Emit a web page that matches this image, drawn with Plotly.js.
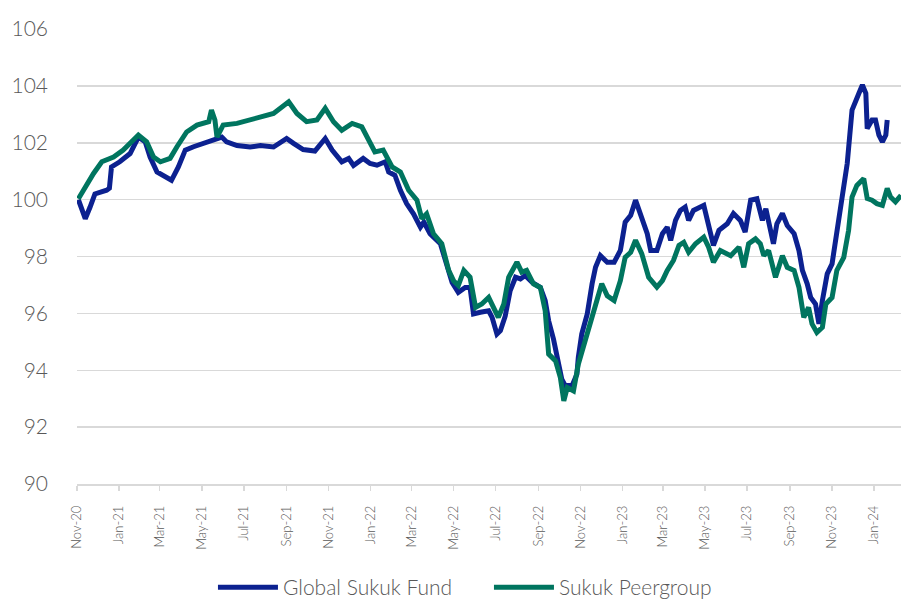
<!DOCTYPE html>
<html>
<head>
<meta charset="utf-8">
<script src="https://cdn.plot.ly/plotly-3.0.1.min.js"></script>
<style>
html,body{margin:0;padding:0;background:#fff;}
#chart{width:901px;height:599px;}
</style>
</head>
<body>
<div id="chart"></div>
<script>
// Global Sukuk Fund
var fundDates = ["2020-11-03","2020-11-13","2020-11-20","2020-11-27","2020-12-14","2020-12-18","2020-12-21","2021-01-02","2021-01-17","2021-01-29","2021-02-08","2021-02-15","2021-02-25","2021-03-09","2021-03-18","2021-03-28","2021-04-07","2021-04-19","2021-05-03","2021-05-18","2021-05-30","2021-06-06","2021-06-21","2021-07-10","2021-07-25","2021-08-13","2021-09-01","2021-09-11","2021-09-25","2021-10-12","2021-10-27","2021-11-06","2021-11-20","2021-11-30","2021-12-07","2021-12-21","2021-12-31","2022-01-10","2022-01-22","2022-01-27","2022-02-05","2022-02-13","2022-02-22","2022-03-04","2022-03-14","2022-03-19","2022-03-28","2022-04-12","2022-04-22","2022-04-29","2022-05-08","2022-05-18","2022-05-25","2022-05-30","2022-06-09","2022-06-21","2022-06-26","2022-07-03","2022-07-08","2022-07-15","2022-07-22","2022-07-30","2022-08-06","2022-08-13","2022-08-23","2022-09-04","2022-09-11","2022-09-16","2022-09-23","2022-09-28","2022-10-05","2022-10-10","2022-10-20","2022-10-27","2022-10-29","2022-11-03","2022-11-11","2022-11-18","2022-11-23","2022-11-30","2022-12-10","2022-12-20","2022-12-29","2023-01-05","2023-01-13","2023-01-20","2023-01-27","2023-02-06","2023-02-11","2023-02-20","2023-02-28","2023-03-07","2023-03-12","2023-03-19","2023-03-26","2023-04-02","2023-04-07","2023-04-14","2023-04-29","2023-05-06","2023-05-13","2023-05-21","2023-06-02","2023-06-11","2023-06-21","2023-06-28","2023-07-06","2023-07-15","2023-07-20","2023-07-23","2023-07-28","2023-08-01","2023-08-08","2023-08-13","2023-08-21","2023-08-28","2023-09-07","2023-09-14","2023-09-19","2023-09-26","2023-10-01","2023-10-08","2023-10-13","2023-10-18","2023-10-25","2023-11-01","2023-11-08","2023-11-16","2023-11-23","2023-11-30","2023-12-05","2023-12-10","2023-12-15","2023-12-20","2023-12-22","2023-12-29","2024-01-03","2024-01-08","2024-01-13","2024-01-18","2024-01-20"];
var fundValues = [100.0,99.33,99.74,100.2,100.33,100.4,101.15,101.33,101.62,102.2,102.03,101.5,100.97,100.8,100.68,101.15,101.74,101.86,101.98,102.09,102.2,102.03,101.9,101.85,101.9,101.85,102.15,101.98,101.76,101.71,102.15,101.74,101.33,101.45,101.2,101.45,101.27,101.21,101.33,100.97,100.86,100.33,99.86,99.5,99.03,99.21,98.8,98.45,97.62,97.09,96.74,96.91,96.91,95.98,96.04,96.09,95.86,95.27,95.39,95.9,96.78,97.27,97.21,97.33,97.09,96.91,96.45,95.74,95.1,94.51,93.69,93.46,93.46,93.86,94.45,95.27,95.98,97.04,97.62,98.03,97.8,97.8,98.21,99.21,99.45,99.98,99.51,98.8,98.21,98.21,98.8,99.03,98.57,99.27,99.62,99.74,99.27,99.62,99.8,99.15,98.39,98.92,99.15,99.51,99.27,98.86,99.98,100.03,99.62,99.27,99.68,99.27,98.45,99.15,99.51,99.09,98.8,98.21,97.51,97.04,96.56,96.33,95.63,96.45,97.39,97.74,98.8,100.09,101.27,103.15,103.5,103.74,104.03,103.74,102.5,102.8,102.8,102.27,102.03,102.27,102.8];

// Sukuk Peergroup
var peerDates = ["2020-11-03","2020-11-10","2020-11-25","2020-12-07","2020-12-24","2021-01-07","2021-01-22","2021-01-29","2021-02-10","2021-02-20","2021-03-02","2021-03-16","2021-03-26","2021-04-09","2021-04-24","2021-05-11","2021-05-15","2021-05-20","2021-05-23","2021-06-01","2021-06-21","2021-07-10","2021-07-29","2021-08-13","2021-09-04","2021-09-16","2021-09-30","2021-10-15","2021-10-27","2021-11-08","2021-11-20","2021-12-05","2021-12-19","2021-12-29","2022-01-07","2022-01-19","2022-02-01","2022-02-13","2022-02-25","2022-03-09","2022-03-16","2022-03-23","2022-04-02","2022-04-14","2022-04-24","2022-05-01","2022-05-08","2022-05-16","2022-05-25","2022-06-02","2022-06-11","2022-06-21","2022-06-28","2022-07-05","2022-07-13","2022-07-20","2022-08-01","2022-08-08","2022-08-15","2022-08-25","2022-09-04","2022-09-11","2022-09-16","2022-09-26","2022-10-03","2022-10-08","2022-10-13","2022-10-22","2022-10-29","2022-11-06","2022-11-15","2022-11-25","2022-12-02","2022-12-10","2022-12-20","2022-12-29","2023-01-05","2023-01-13","2023-01-20","2023-01-29","2023-02-08","2023-02-20","2023-02-28","2023-03-07","2023-03-16","2023-03-24","2023-03-31","2023-04-07","2023-04-17","2023-04-29","2023-05-06","2023-05-13","2023-05-23","2023-06-07","2023-06-19","2023-06-26","2023-07-03","2023-07-13","2023-07-20","2023-07-25","2023-08-01","2023-08-11","2023-08-21","2023-08-28","2023-09-07","2023-09-14","2023-09-21","2023-09-28","2023-10-03","2023-10-10","2023-10-18","2023-10-23","2023-11-01","2023-11-08","2023-11-18","2023-11-25","2023-11-30","2023-12-07","2023-12-17","2023-12-22","2023-12-29","2024-01-05","2024-01-13","2024-01-20","2024-01-25","2024-02-01","2024-02-09"];
var peerValues = [100.03,100.33,100.92,101.33,101.5,101.74,102.09,102.27,102.03,101.5,101.33,101.45,101.86,102.38,102.62,102.74,103.15,102.8,102.2,102.62,102.68,102.8,102.91,103.03,103.44,103.03,102.74,102.8,103.21,102.74,102.44,102.68,102.56,102.09,101.68,101.74,101.15,100.97,100.33,99.98,99.33,99.5,98.8,98.45,97.51,97.15,96.98,97.51,97.27,96.21,96.33,96.56,96.21,95.86,96.33,97.27,97.8,97.45,97.51,97.04,96.91,96.09,94.57,94.33,93.74,92.92,93.39,93.27,94.21,94.86,95.6,96.45,97.04,96.62,96.45,97.15,97.97,98.15,98.57,98.1,97.27,96.92,97.15,97.51,97.86,98.39,98.5,98.15,98.45,98.68,98.33,97.8,98.21,98.03,98.33,97.62,98.45,98.62,98.45,98.03,98.21,97.27,98.03,97.62,97.51,96.92,95.86,96.21,95.63,95.33,95.51,96.33,96.56,97.51,97.97,98.92,100.09,100.5,100.74,100.04,99.98,99.86,99.8,100.39,100.09,99.92,100.15];

var seriesNames = ["Global Sukuk Fund", "Sukuk Peergroup"];
var yTickVals = [90, 92, 94, 96, 98, 100, 102, 104, 106];

var gray = "#595959";
var grid = "#d9d9d9";
var font = "Lato, 'Open Sans', sans-serif";

var traces = [
  {x: fundDates, y: fundValues, name: seriesNames[0], type: "scatter", mode: "lines",
   line: {color: "#0c2190", width: 5}},
  {x: peerDates, y: peerValues, name: seriesNames[1], type: "scatter", mode: "lines",
   line: {color: "#00755f", width: 5}}
];

var layout = {
  width: 901, height: 599,
  margin: {l: 77, r: 0, t: 29, b: 115, autoexpand: false},
  paper_bgcolor: "#fff", plot_bgcolor: "#fff",
  font: {family: font, color: gray, weight: 300},
  showlegend: true,
  legend: {orientation: "h", x: 0.165, xanchor: "left", y: -0.2725, yanchor: "bottom",
           font: {size: 21, color: gray, family: font, weight: 300}, itemwidth: 60, entrywidth: 201,
           traceorder: "normal"},
  xaxis: {type: "date", range: ["2020-11-01", "2024-02-09"], tick0: "2020-11-01", dtick: "M2",
          tickformat: "%b-%y", tickangle: -90, tickfont: {size: 13, color: gray, family: font, weight: 300},
          showgrid: false, showline: true, linecolor: grid, linewidth: 1.5,
          ticks: "outside", ticklen: 5, tickcolor: grid, tickwidth: 1.5,
          ticklabelstandoff: 10,
          zeroline: false, fixedrange: true},
  yaxis: {range: [90, 106], tickvals: yTickVals, tickfont: {size: 21, color: gray, family: font, weight: 300},
          showgrid: true, gridcolor: grid, gridwidth: 1.5, zeroline: false, showline: false,
          ticklabelstandoff: 28, fixedrange: true}
};

Plotly.newPlot("chart", traces, layout, {displayModeBar: false, staticPlot: true});
</script>
</body>
</html>
